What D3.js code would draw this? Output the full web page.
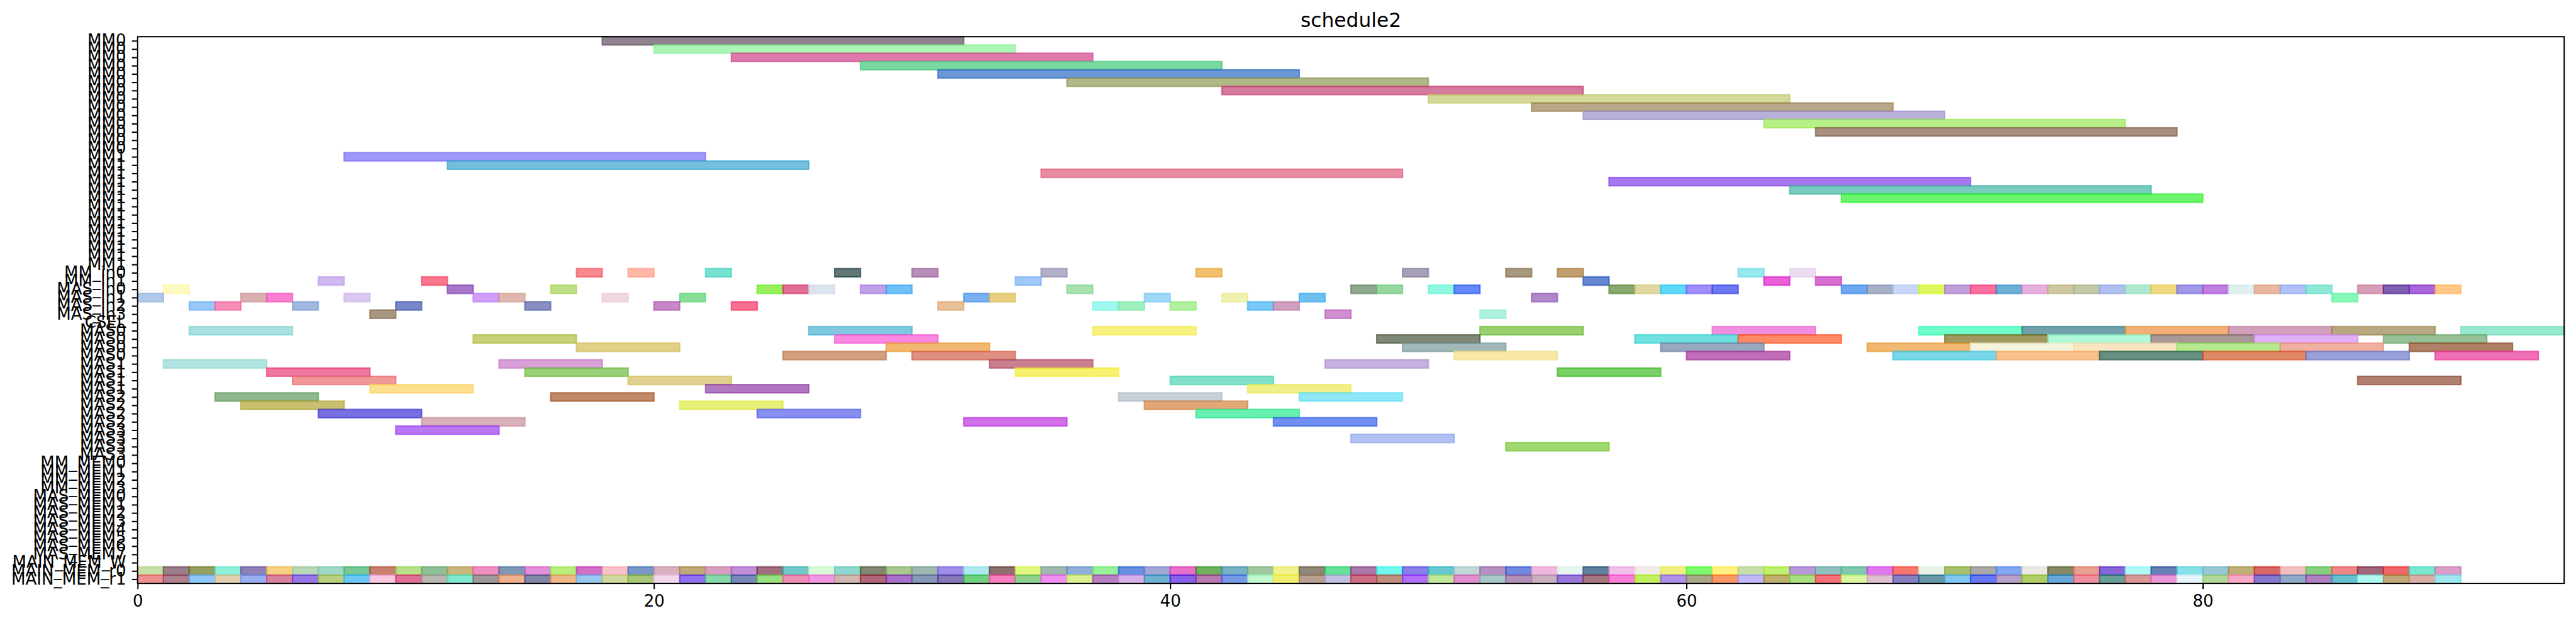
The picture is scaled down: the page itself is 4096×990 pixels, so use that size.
<!DOCTYPE html>
<html><head><meta charset="utf-8">
<script src="https://cdn.jsdelivr.net/npm/d3@7"></script>
<style>html,body{margin:0;padding:0;background:#fff;overflow:hidden}</style>
</head><body>
<svg id="chart" width="4096" height="990" viewBox="0 0 4361 1054"></svg>
<script>
// ---------------- data ----------------
const title = "schedule2";
const rowLabels = [
  "MM0","MM0","MM0","MM0","MM0","MM0","MM0","MM0","MM0","MM0","MM0","MM0","MM0","MM0",
  "MM1","MM1","MM1","MM1","MM1","MM1","MM1","MM1","MM1","MM1","MM1","MM1","MM1","MM1",
  "MM_in0","MM_in1","MAS_in0","MAS_in1","MAS_in2","MAS_in3","CSEL",
  "MAS0","MAS0","MAS0","MAS0","MAS1","MAS1","MAS1","MAS1",
  "MAS2","MAS2","MAS2","MAS2","MAS3","MAS3","MAS3","MAS3",
  "MM_MEM0","MM_MEM1","MM_MEM2","MM_MEM3",
  "MAS_MEM0","MAS_MEM1","MAS_MEM2","MAS_MEM3","MAS_MEM4","MAS_MEM5","MAS_MEM6","MAS_MEM7",
  "MAIN_MEM_W","MAIN_MEM_r0","MAIN_MEM_r1"
];
const xTicks = [0, 20, 40, 60, 80];
const xMax = 94;

// [row, start, end]
const mmTasks = [
  [0,18,32],[1,20,34],[2,23,37],[3,28,42],[4,31,45],[5,36,50],[6,42,56],[7,50,64],
  [8,54,68],[9,56,70],[10,63,77],[11,65,79],
  [14,8,22],[15,12,26],[16,35,49],[17,57,71],[18,64,78],[19,66,80]
];
const mmColors = ["#908490","#acf5b5","#de7aab","#7ad9a0","#6c98d6","#b0b888","#d47a9c","#d4d898",
  "#b8a888","#b8b0d8","#b8f088","#a89080",
  "#a098f8","#74c0de","#e88ca4","#a878f0","#78ccc0","#6cf46c"];

const inTasks = [
  [28,17,18],[28,19,20],[28,22,23],[28,27,28],[28,30,31],[28,35,36],[28,41,42],[28,49,50],[28,53,54],[28,55,56],[28,62,63],[28,64,65],
  [29,7,8],[29,11,12],[29,34,35],[29,56,57],[29,63,64],[29,65,66],
  [30,1,2],[30,12,13],[30,16,17],[30,24,25],[30,25,26],[30,26,27],[30,28,29],[30,29,30],[30,36,37],[30,47,48],[30,48,49],
  [30,50,51],[30,51,52],[30,57,58],[30,58,59],[30,59,60],[30,60,61],[30,61,62],[30,66,67],[30,67,68],[30,68,69],[30,69,70],
  [30,70,71],[30,71,72],[30,72,73],[30,73,74],[30,74,75],[30,75,76],[30,76,77],[30,77,78],[30,78,79],[30,79,80],[30,80,81],
  [30,81,82],[30,82,83],[30,83,84],[30,84,85],[30,86,87],[30,87,88],[30,88,89],[30,89,90],
  [31,0,1],[31,4,5],[31,5,6],[31,8,9],[31,13,14],[31,14,15],[31,18,19],[31,21,22],[31,32,33],[31,33,34],[31,39,40],[31,42,43],
  [31,45,46],[31,54,55],[31,85,86],
  [32,2,3],[32,3,4],[32,6,7],[32,10,11],[32,15,16],[32,20,21],[32,23,24],[32,31,32],[32,37,38],[32,38,39],[32,40,41],[32,43,44],[32,44,45],
  [33,9,10],[33,46,47],[33,52,53]
];
const inColors = [
  "#f88890","#ffb8a8","#78e0d0","#607878","#b890b8","#b0b0c8","#f0c070","#a8a0b8","#a89880","#c0a070","#98e8f0","#ecdcf0",
  "#d0b8f0","#f87890","#a0c8f8","#6888d0","#e860d8","#d870d0",
  "#fff8c0","#a878c8","#c0e088","#98f060","#e07098","#dce4f0","#c0a0e8","#70c0f8","#a8e0b0","#90a890","#98d8a0",
  "#90f8e0","#6888f8","#88a870","#e0d8a0","#60d8f8","#a090f8","#7078f0","#70a8f0","#a8b0c8","#c8d8f8","#e0f860",
  "#c0a0d8","#f870a0","#70b0d8","#e8b0e0","#d0c8a0","#c0c8a8","#b0c0f0","#b0e8d0","#f0d880","#a098e8","#c080e0",
  "#e0f0f0","#e8b8a0","#b0c0f8","#90e8d8","#d8a0b8","#8060b0","#a868d8","#ffc888",
  "#b0c8e8","#d8b0b0","#f880d0","#dcc8f0","#d0a0f8","#e0b8b0","#f0d8e0","#88e098","#78b0f0","#e8d080","#a0d8f8","#f0f0b0",
  "#70c0f0","#b088c8","#88f8b8",
  "#98c8f8","#f890b8","#a0b8e0","#7888c8","#8890c0","#c888c8","#f87090","#e8c098","#a0f8f0","#a0f0c0","#b0f0a0","#78c8f8","#d0a0c0",
  "#a89880","#d090d0","#b0f0e0"
];

const masTasks = [
  [35,2,6],[35,26,30],[35,37,41],[35,52,56],[35,61,65],[35,69,73],[35,73,77],[35,77,81],[35,81,85],[35,85,89],[35,90,94],
  [36,13,17],[36,27,31],[36,48,52],[36,58,62],[36,62,66],[36,70,74],[36,74,78],[36,78,82],[36,82,86],[36,87,91],
  [37,17,21],[37,29,33],[37,49,53],[37,59,63],[37,67,71],[37,71,75],[37,75,79],[37,79,83],[37,83,87],[37,88,92],
  [38,25,29],[38,30,34],[38,51,55],[38,60,64],[38,68,72],[38,72,76],[38,76,80],[38,80,84],[38,84,88],[38,89,93],
  [39,1,5],[39,14,18],[39,33,37],[39,46,50],
  [40,5,9],[40,15,19],[40,34,38],[40,55,59],
  [41,6,10],[41,19,23],[41,40,44],[41,86,90],
  [42,9,13],[42,22,26],[42,43,47],
  [43,3,7],[43,16,20],[43,38,42],[43,45,49],
  [44,4,8],[44,21,25],[44,39,43],
  [45,7,11],[45,24,28],[45,41,45],
  [46,11,15],[46,32,36],[46,44,48],
  [47,10,14],
  [48,47,51],
  [49,53,57]
];
const masColors = [
  "#a8e0e0","#80c8e0","#f8f080","#98d070","#f090e0","#70ffc8","#70a0a8","#f0b078","#d0a0b8","#b8a880","#98e8d0",
  "#c8d078","#f888e0","#808878","#70e0e0","#ff8868","#a09860","#b0f8d8","#a89898","#e0b0f8","#98c098",
  "#e0d088","#f0b870","#a0b8b8","#98a8c0","#f0b870","#f4f4dc","#f8e4c0","#b8e890","#f0b0a0","#b08068",
  "#d0a080","#e09080","#f8e8a8","#c070b8","#78d8e8","#f8c090","#689080","#e08868","#98a0d8","#f070b8",
  "#b0e4e0","#d8a0d8","#c88090","#c8b0e0",
  "#f078a0","#98d078","#f8f070","#78d068",
  "#f09898","#e0d090","#80e0c8","#b08070",
  "#fde090","#b078c0","#f0f088",
  "#90b890","#c08868","#c8d0d8","#90e8f8",
  "#c8c070","#e8f078","#e0a878",
  "#7870e0","#8890f0","#68f0b0",
  "#d8b0b8","#d070e8","#7090f0",
  "#b878f8",
  "#b0c0f0",
  "#a0d870"
];

// main memory read ports: one slot per time unit
const mainMemStarts = [0,1,2,3,4,5,6,7,8,9,10,11,12,13,14,15,16,17,18,19,20,21,22,23,24,25,26,27,28,29,
  30,31,32,33,34,35,36,37,38,39,40,41,42,43,44,45,46,47,48,49,50,51,52,53,54,55,56,57,58,59,
  60,61,62,63,64,65,66,67,68,69,70,71,72,73,74,75,76,77,78,79,80,81,82,83,84,85,86,87,88,89];
const mainMemEnds = [1,2,3,4,5,6,7,8,9,10,11,12,13,14,15,16,17,18,19,20,21,22,23,24,25,26,27,28,29,30,
  31,32,33,34,35,36,37,38,39,40,41,42,43,44,45,46,47,48,49,50,51,52,53,54,55,56,57,58,59,60,
  61,62,63,64,65,66,67,68,69,70,71,72,73,74,75,76,77,78,79,80,81,82,83,84,85,86,87,88,89,90];
const mainMemR0Colors = ["#c8e0a8","#9c7e8a","#96a060","#90f0d8","#9080b8","#f4d080","#b8d8b8","#a0d8c8","#78c898","#c88070",
  "#b8e088","#90c098","#c8b880","#f090c0","#8098b8","#e090d8","#b8f080","#d070c8","#f8c0c8","#7898c8",
  "#d8b0c0","#c0a878","#d8a0c0","#c090d8","#a07080","#70c8c8","#d8f8d8","#90d8d0","#808870","#a8c890",
  "#a0b8b0","#a090e8","#b0e8f0","#907070","#e0f880","#a0b8b0","#90b0d8","#98f098","#6890e0","#a0a8d8",
  "#e870c8","#70b060","#78b0c8","#a0c8a0","#f0f090","#908878","#68e098","#a878a8","#70f8f0","#8880e8",
  "#68c8d0","#c0d8d8","#b890c0","#7088e0","#f0b8e0","#e8f4f0","#6080a0","#f0c0e8","#f0ece8","#f0f080",
  "#80f870","#fff080","#c8e0a8","#c0f070","#b898d8","#90c0c0","#80c8b0","#e078f0","#f87870","#e8f4e8",
  "#a8c070","#a8a8a8","#80a8f0","#ebe8e4","#888868","#e8a090","#8868d8","#b0f8f8","#6880b8","#88e0e8",
  "#98c8d8","#c0b078","#d86868","#f0c0c0","#88d080","#f08888","#a06878","#f06868","#78e8d0","#d8a0c8"];
const mainMemR1Colors = ["#f09090","#b08090","#90c8f8","#e0d0b0","#98b0f0","#d880a0","#9878e8","#b8d080","#70c8f8","#f8c8e0",
  "#e07098","#b8b8b0","#80e8d0","#a09898","#f0b090","#8088a8","#f0b888","#98c8f0","#d0d8a0","#a8c878",
  "#f0d8ec","#9070f0","#88d8a8","#7888b8","#98e080","#f090b8","#f098e0","#d0b8b0","#b06878","#a870c8",
  "#8898b8","#8878b8","#70d080","#f880c0","#90d090","#f090f0","#d8f090","#b880c0","#d8b0e8","#70b0d0",
  "#8860e8","#b878b0","#7898e8","#c0f8d0","#f0f070","#b8a090","#c0c0e0","#d07088","#c09080","#b070f8",
  "#c0e898","#e090d0","#a8c8c8","#b090b8","#c8b0c0","#9878d8","#a87880","#f880d8","#c0f060","#b090e8",
  "#a8a888","#f89868","#c0b8f8","#c0b070","#a8e080","#f87078","#d8f8a0","#e0c0d0","#8880c0","#6898a8",
  "#80c8f0","#6878f8","#b8a0c8","#b0d068","#68a8d8","#f090a0","#6aa098","#d89898","#e898d8","#e8f4fc",
  "#b0d898","#f8a8c8","#8878d0","#90a8c8","#b080c0","#68c0d0","#b0f8f0","#c0a878","#d8b0a8","#a0e8f0"];

// ---------------- build ----------------
const tasks = [];
mmTasks.forEach((t,i)=>tasks.push({row:t[0],start:t[1],end:t[2],color:mmColors[i]}));
inTasks.forEach((t,i)=>tasks.push({row:t[0],start:t[1],end:t[2],color:inColors[i]}));
masTasks.forEach((t,i)=>tasks.push({row:t[0],start:t[1],end:t[2],color:masColors[i]}));
mainMemStarts.forEach((s,i)=>tasks.push({row:64,start:s,end:mainMemEnds[i],color:mainMemR0Colors[i]}));
mainMemStarts.forEach((s,i)=>tasks.push({row:65,start:s,end:mainMemEnds[i],color:mainMemR1Colors[i]}));

const L = 233, R = 4341, T = 62, B = 987;
const FONT = "'DejaVu Sans', 'Liberation Sans', sans-serif";
const ALPHA = 0.7;

const svg = d3.select("#chart");
svg.append("rect").attr("width",4361).attr("height",1054).attr("fill","#fff");

const x = d3.scaleLinear().domain([0, xMax]).range([L, R]);
const y = d3.scaleLinear().domain([-0.5, rowLabels.length - 0.5]).range([T, B]);

function base(hex){
  const c = d3.rgb(hex);
  const f = v => Math.max(0, Math.min(255, (v - 255*(1-ALPHA))/ALPHA));
  return d3.rgb(f(c.r), f(c.g), f(c.b)).formatHex();
}

svg.append("g").selectAll("rect").data(tasks).join("rect")
  .attr("x", d => x(d.start))
  .attr("width", d => x(d.end) - x(d.start))
  .attr("y", d => y(d.row - 0.5))
  .attr("height", d => y(d.row + 0.5) - y(d.row - 0.5))
  .attr("fill", d => base(d.color))
  .attr("fill-opacity", ALPHA)
  .attr("stroke", d => base(d.color))
  .attr("stroke-opacity", ALPHA)
  .attr("stroke-width", 2.4);

// axes
const tickLen = 9.7, tickPad = 9.7, fs = 27.8;
const xAxis = svg.append("g").attr("transform", `translate(0,${B})`)
  .call(d3.axisBottom(x).tickValues(xTicks).tickFormat(d3.format("d")).tickSize(tickLen).tickPadding(tickPad));
const yAxis = svg.append("g").attr("transform", `translate(${L},0)`)
  .call(d3.axisLeft(y).tickValues(d3.range(rowLabels.length)).tickFormat(i => rowLabels[i]).tickSize(tickLen).tickPadding(tickPad));

[xAxis, yAxis].forEach(g => {
  g.select(".domain").remove();
  g.selectAll(".tick line").attr("stroke", "#000").attr("stroke-width", 2.2);
  g.selectAll(".tick text").attr("fill", "#000").style("font-family", FONT).style("font-size", fs + "px");
});
xAxis.selectAll(".tick text").attr("dy", "0.72em");
yAxis.selectAll(".tick text").attr("dy", "0.30em");

// frame
svg.append("rect").attr("x", L).attr("y", T).attr("width", R - L).attr("height", B - T)
  .attr("fill", "none").attr("stroke", "#000").attr("stroke-width", 2.2);

// title
svg.append("text").attr("x", (L + R) / 2).attr("y", T - 16.7)
  .attr("text-anchor", "middle").style("font-family", FONT).style("font-size", "33.3px")
  .attr("fill", "#000").text(title);
</script>
</body></html>
